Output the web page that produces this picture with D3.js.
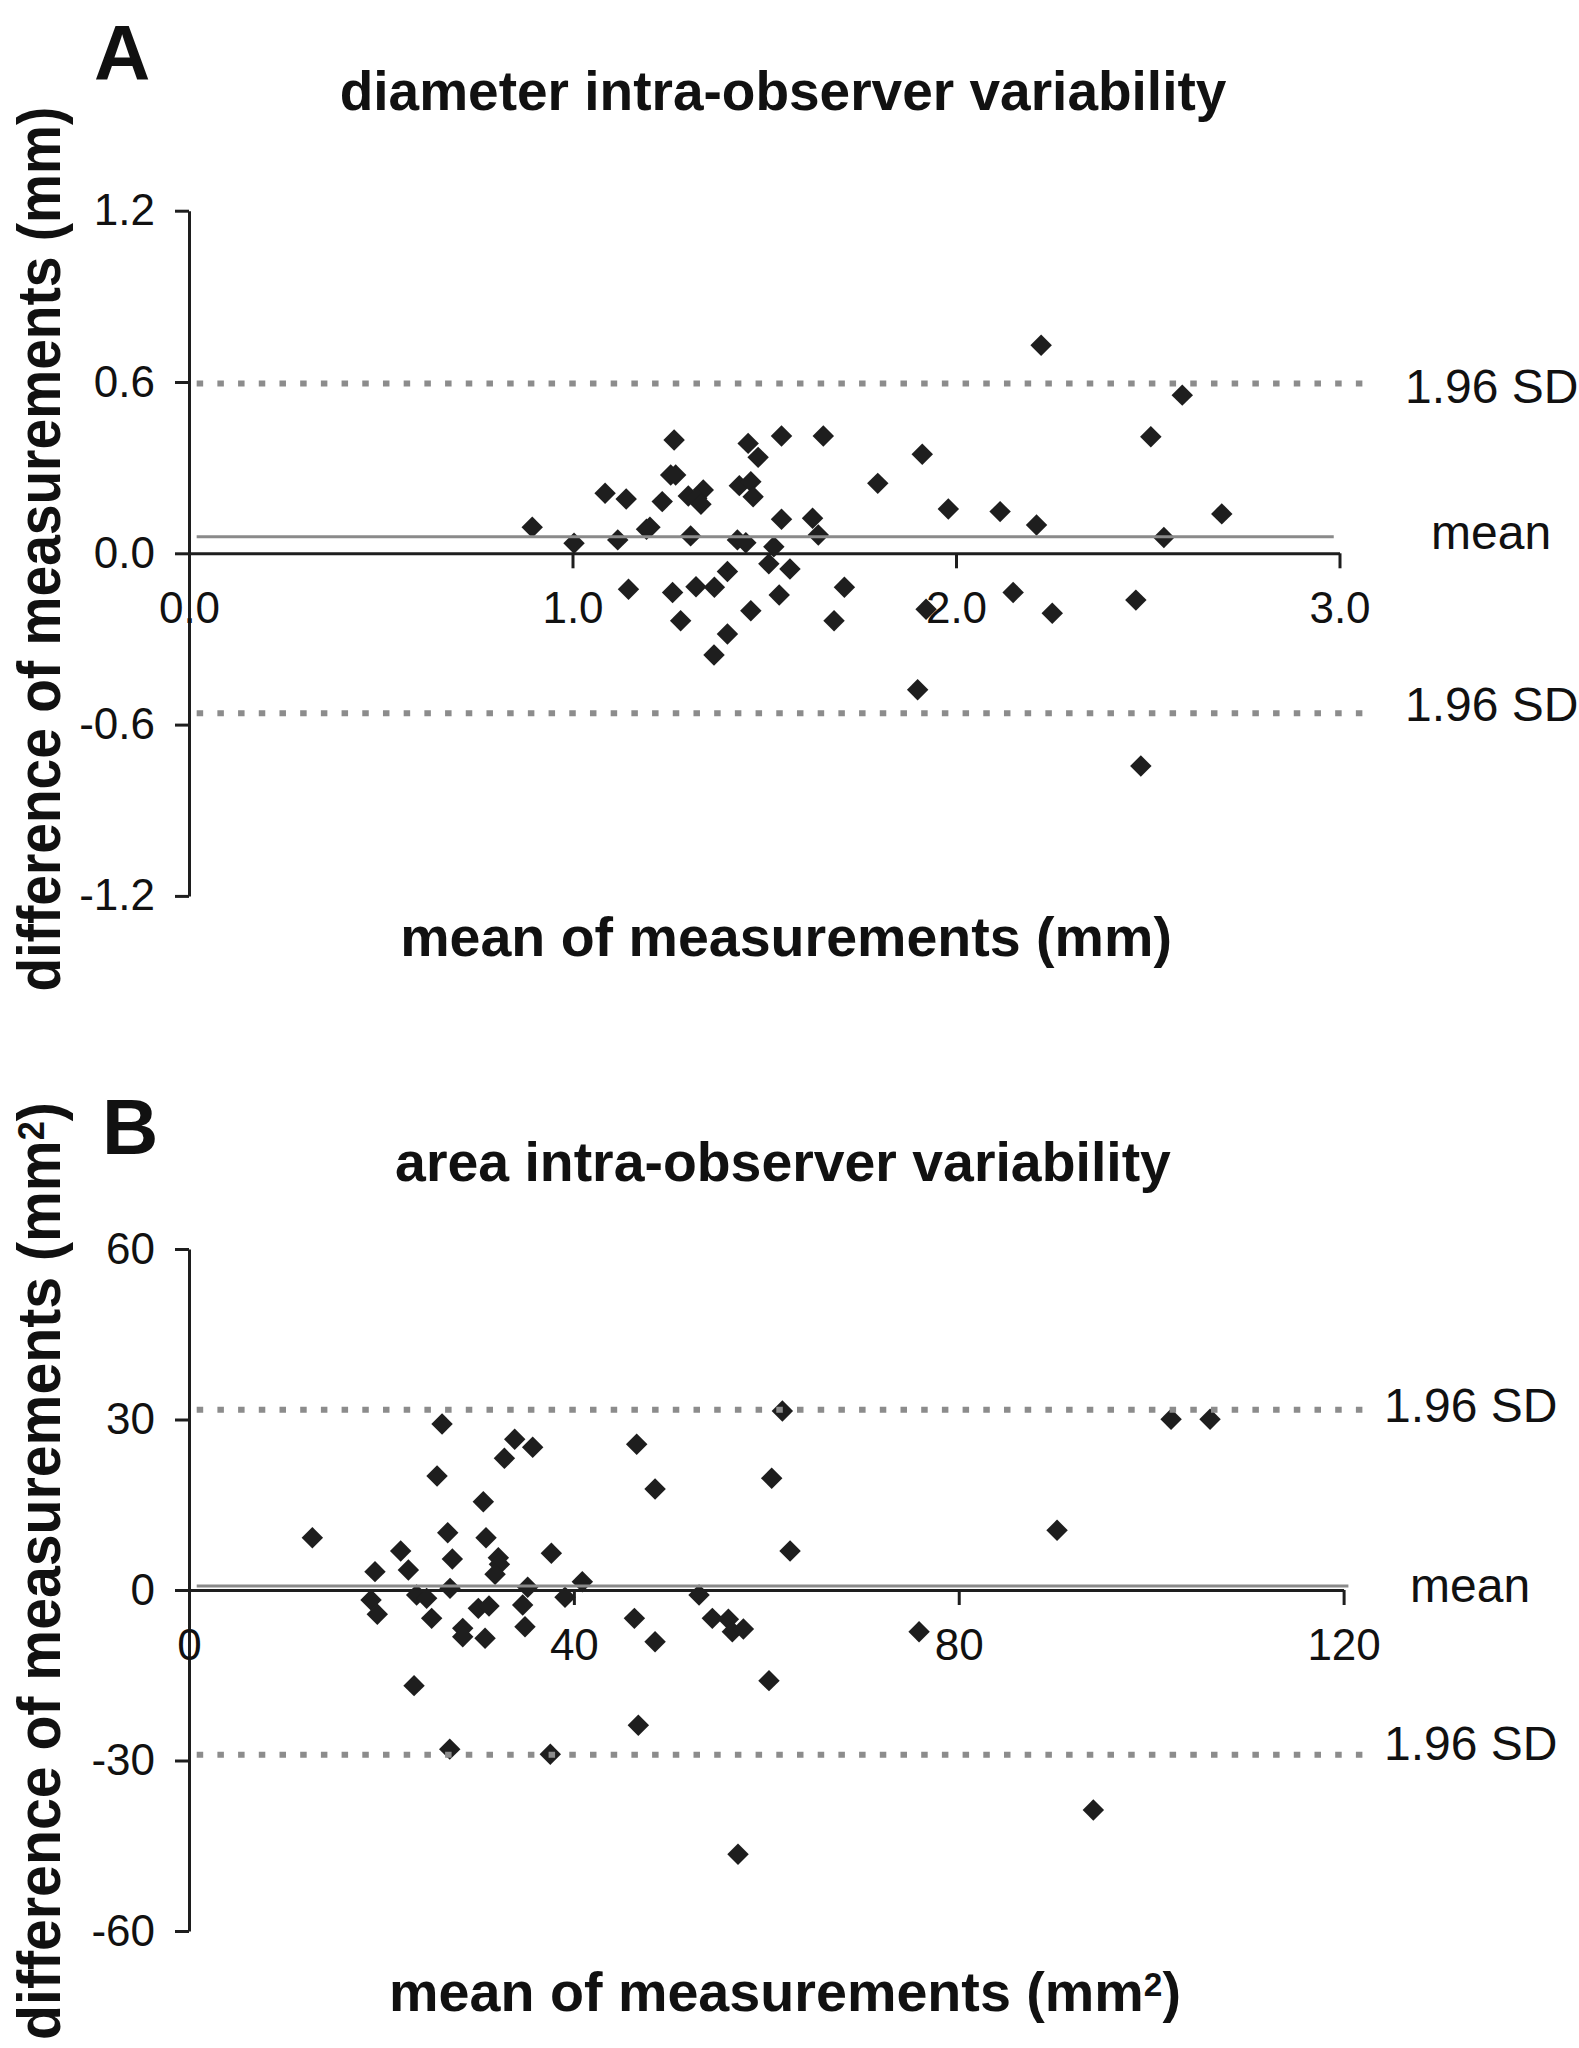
<!DOCTYPE html>
<html>
<head>
<meta charset="utf-8">
<script src="https://cdn.jsdelivr.net/npm/d3@7"></script>
<style>
  body { margin: 0; background: #fff; }
  text { font-family: "Liberation Sans", Arial, sans-serif; fill: #111; }
</style>
</head>
<body>
<div id="chart"></div>
<script>
//----- Panel A: diameter (Bland-Altman)

var diamMean = [0.895, 1.004, 1.085, 1.140, 1.118, 1.146, 1.193, 1.202, 1.234, 1.265,
  1.458, 1.545, 1.654, 1.484, 1.912, 1.256, 1.269, 1.796, 1.435, 1.465,
  1.471, 1.341, 1.302, 1.324, 1.335, 1.980, 2.115, 2.210, 1.545, 1.626,
  1.641, 1.308, 1.430, 1.452, 1.525, 1.512, 1.567, 1.404, 1.261, 1.322,
  1.370, 1.539, 1.709, 2.149, 1.282, 1.465, 1.682, 1.922, 2.251, 1.404,
  1.369, 2.590, 2.508, 2.693, 2.542, 2.469, 2.482, 2.222, 1.900];
var diamDiff = [0.091, 0.035, 0.210, 0.190, 0.047, -0.126, 0.084, 0.091, 0.181, 0.397,
  0.385, 0.411, 0.411, 0.336, 0.347, 0.274, 0.274, 0.245, 0.237, 0.251,
  0.198, 0.222, 0.201, 0.193, 0.172, 0.155, 0.146, 0.099, 0.119, 0.123,
  0.064, 0.061, 0.047, 0.037, 0.023, -0.037, -0.055, -0.064, -0.137, -0.117,
  -0.119, -0.146, -0.119, -0.137, -0.236, -0.201, -0.236, -0.196, -0.210, -0.283,
  -0.356, 0.554, 0.408, 0.138, 0.055, -0.164, -0.745, 0.729, -0.478];
var diamLimits = [0.595, 0.058, -0.56];   // +1.96 SD, mean, -1.96 SD
var diamXTicks = [0, 1, 2, 3];
var diamYTicks = [-1.2, -0.6, 0, 0.6, 1.2];

//----- Panel B: area

var areaMean = [61.67, 60.56, 62.47, 102.07, 106.12, 90.22, 75.88, 54.39, 56.06, 56.47,
  57.62, 60.28, 93.99, 57.06, 12.82, 26.30, 33.85, 35.72, 32.78, 46.53,
  25.78, 48.44, 30.59, 26.89, 30.87, 22.00, 37.66, 27.37, 32.15, 32.26,
  19.33, 22.80, 31.81, 40.88, 27.13, 35.20, 23.66, 24.70, 18.92, 19.57,
  39.08, 53.01, 25.22, 30.07, 31.18, 34.68, 46.29, 28.45, 28.45, 30.77,
  34.92, 48.44, 23.39, 27.1, 37.55, 46.7];
var areaDiff = [31.5, 19.65, 6.86, 30.03, 30.03, 10.50, -7.33, -4.99, -5.16, -7.33,
  -6.86, -15.95, -38.71, -46.51, 9.21, 29.21, 26.51, 25.10, 23.17, 25.63,
  20.06, 17.77, 15.54, 10.09, 9.21, 6.86, 6.45, 5.45, 5.69, 4.52,
  3.23, 3.52, 2.76, 1.46, 0.29, 0.47, -0.88, -1.47, -1.76, -4.28,
  -1.29, -0.88, -4.99, -3.23, -2.82, -2.64, -4.99, -6.75, -8.21, -8.50,
  -6.45, -9.09, -16.83, -28.0, -28.9, -23.8];
var areaLimits = [31.7, 0.7, -29.0];
var areaXTicks = [0, 40, 80, 120];
var areaYTicks = [-60, -30, 0, 30, 60];

var svg = d3.select("#chart").append("svg")
  .attr("width", 1579)
  .attr("height", 2048);

// stretch a text along its own direction to a given width
function fitText(t, x, y, width, rotated) {
  var w = t.node().getComputedTextLength();
  t.attr("transform", "translate(" + x + "," + y + ")" +
    (rotated ? " rotate(-90)" : "") + " scale(" + (width / w) + ",1)");
}

function boldLabel(parts, size) {
  var t = svg.append("text")
    .attr("text-anchor", "middle")
    .attr("font-weight", "bold")
    .attr("font-size", size);
  t.append("tspan").text(parts[0]);
  if (parts.length > 1) {
    // superscript, kept under the ascender line
    t.append("tspan").attr("font-size", size * 0.6).attr("dy", -size * 0.26).text(parts[1]);
    t.append("tspan").attr("dy", size * 0.26).text(parts[2]);
  }
  return t;
}

function drawPanel(p) {
  var x = d3.scaleLinear().domain(p.xDomain).range(p.xRange);
  var y = d3.scaleLinear().domain(p.yDomain).range(p.yRange);

  // points
  svg.append("g").selectAll("path")
    .data(d3.zip(p.xs, p.ys))
    .enter()
    .append("path")
    .attr("d", d3.symbol().type(d3.symbolSquare).size(230))
    .attr("transform", function(d) { return "translate(" + x(d[0]) + "," + y(d[1]) + ") rotate(45)"; })
    .attr("fill", "#1e1e1e");

  // axes
  var gy = svg.append("g")
    .attr("transform", "translate(" + p.xRange[0] + ",0)")
    .call(d3.axisLeft(y).tickValues(p.yTicks).tickSize(14).tickSizeOuter(0)
      .tickPadding(20).tickFormat(p.yFmt));
  var gx = svg.append("g")
    .attr("transform", "translate(0," + y(0) + ")")
    .call(d3.axisBottom(x).tickValues(p.xTicks).tickSize(15).tickSizeOuter(0)
      .tickFormat(p.xFmt));
  [gx, gy].forEach(function(g) {
    g.attr("color", "#1e1e1e")
      .attr("font-size", 44)
      .attr("font-family", "'Liberation Sans', Arial, sans-serif");
    g.selectAll("path, line").attr("stroke-width", 3);
  });
  gx.selectAll("text").attr("y", 70).attr("dy", null);

  // mean and limits of agreement
  svg.append("line")
    .attr("x1", x(p.meanExtent[0])).attr("x2", x(p.meanExtent[1]))
    .attr("y1", y(p.limits[1])).attr("y2", y(p.limits[1]))
    .attr("stroke", "#8a8a8a").attr("stroke-width", 3);
  [p.limits[0], p.limits[2]].forEach(function(v) {
    svg.append("line")
      .attr("x1", x(p.sdExtent[0])).attr("x2", x(p.sdExtent[1]))
      .attr("y1", y(v)).attr("y2", y(v))
      .attr("stroke", "#8c8c8c").attr("stroke-width", 6)
      .attr("stroke-dasharray", "6.5,14.2");
  });

  svg.append("text").attr("x", p.sdLabelX).attr("y", y(p.limits[0]) + p.labelDy[0])
    .attr("font-size", 48).text("1.96 SD");
  svg.append("text").attr("x", p.sdLabelX + 26).attr("y", y(p.limits[1]) + p.labelDy[1])
    .attr("font-size", 48).text("mean");
  svg.append("text").attr("x", p.sdLabelX).attr("y", y(p.limits[2]) + p.labelDy[2])
    .attr("font-size", 48).text("1.96 SD");

  // panel letter, title, axis titles
  svg.append("text").attr("x", p.letterPos[0]).attr("y", p.letterPos[1])
    .attr("font-size", 78).attr("font-weight", "bold").text(p.letter);

  fitText(boldLabel([p.title], 56), p.titlePos[0], p.titlePos[1], p.titlePos[2]);
  fitText(boldLabel(p.xLabel, 56), p.xLabelPos[0], p.xLabelPos[1], p.xLabelPos[2]);
  fitText(boldLabel(p.yLabel, 62), p.yLabelPos[0], p.yLabelPos[1], p.yLabelPos[2], true);
}

drawPanel({
  xs: diamMean, ys: diamDiff, limits: diamLimits,
  xDomain: [0, 3], yDomain: [-1.2, 1.2],
  xRange: [189, 1339.5], yRange: [895.9, 210.7],
  xTicks: diamXTicks, yTicks: diamYTicks,
  xFmt: function(d) { return d.toFixed(1); },
  yFmt: function(d) { return d.toFixed(1); },
  meanExtent: [0.02, 2.985], sdExtent: [0.02, 3.07],
  sdLabelX: 1405, labelDy: [20, 12, 8],
  letter: "A", letterPos: [94, 80],
  title: "diameter intra-observer variability", titlePos: [783, 110, 887],
  xLabel: ["mean of measurements (mm)"], xLabelPos: [786, 956, 772],
  yLabel: ["difference of measurements (mm)"], yLabelPos: [60, 549, 885]
});

drawPanel({
  xs: areaMean, ys: areaDiff, limits: areaLimits,
  xDomain: [0, 120], yDomain: [-60, 60],
  xRange: [189, 1343.6], yRange: [1931, 1249],
  xTicks: areaXTicks, yTicks: areaYTicks,
  xFmt: function(d) { return String(d); },
  yFmt: function(d) { return String(d); },
  meanExtent: [0.8, 120.5], sdExtent: [0.8, 122],
  sdLabelX: 1384, labelDy: [12, 16, 5],
  letter: "B", letterPos: [102, 1154],
  title: "area intra-observer variability", titlePos: [783, 1181, 776],
  xLabel: ["mean of measurements (mm", "2", ")"], xLabelPos: [785, 2011, 792],
  yLabel: ["difference of measurements (mm", "2", ")"], yLabelPos: [60, 1571, 938]
});
</script>
</body>
</html>
